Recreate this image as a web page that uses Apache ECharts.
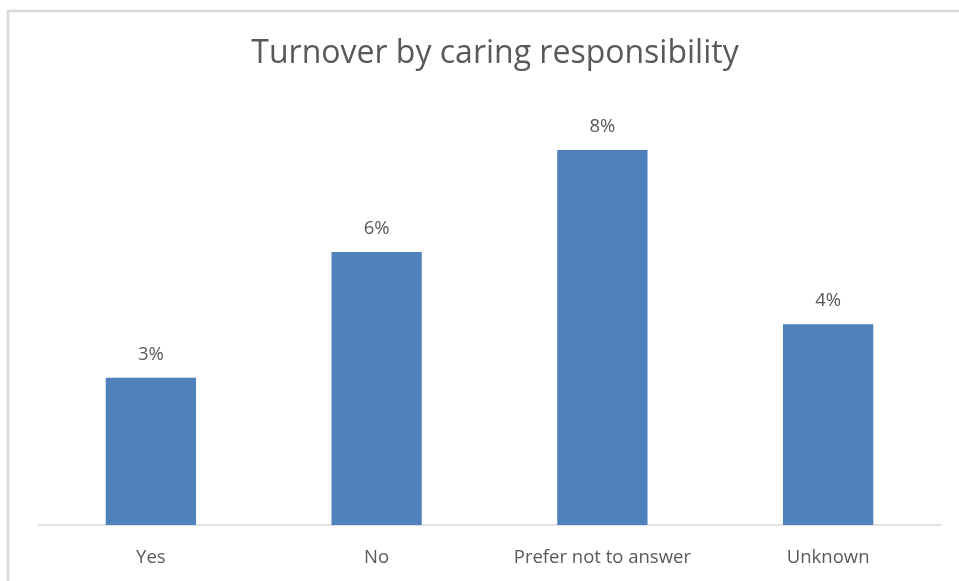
<!DOCTYPE html>
<html>
<head>
<meta charset="utf-8">
<style>
  html, body { margin: 0; padding: 0; background: #fff; }
  #chart { width: 959px; height: 581px; }
</style>
<script src="https://cdn.jsdelivr.net/npm/echarts@6/dist/echarts.min.js"></script>
</head>
<body>
<div id="chart"></div>
<script>
// Turnover rate (%) per caring-responsibility group
const categories = ['Yes', 'No', 'Prefer not to answer', 'Unknown'];
const turnover = [3.14, 5.82, 8.0, 4.28];

const FONT = '"Open Sans", "Noto Sans", sans-serif';
const TEXT = '#595959';

const chart = echarts.init(document.getElementById('chart'), null, { renderer: 'canvas' });

chart.setOption({
  animation: false,
  backgroundColor: '#ffffff',
  title: {
    text: 'Turnover by caring responsibility',
    left: 490,
    textAlign: 'center',
    top: 33,
    textStyle: { fontFamily: FONT, fontSize: 32, fontWeight: 'normal', color: TEXT }
  },
  graphic: [{
    type: 'rect',
    silent: true,
    shape: { x: 8, y: 11, width: 1100, height: 800 },
    style: { fill: 'none', stroke: '#d9d9d9', lineWidth: 2.5 }
  }],
  grid: { left: 38, right: 18, top: 103, bottom: 56, containLabel: false },
  xAxis: {
    type: 'category',
    data: categories,
    axisTick: { show: false },
    axisLine: { lineStyle: { color: '#d9d9d9', width: 1.5 } },
    axisLabel: { interval: 0, hideOverlap: false, fontFamily: FONT, fontSize: 18.5, color: TEXT, margin: 23 }
  },
  yAxis: {
    type: 'value',
    min: 0,
    max: 9,
    show: false,
    splitLine: { show: false }
  },
  series: [{
    type: 'bar',
    data: turnover,
    barWidth: '40%',
    itemStyle: { color: '#4f81bd' },
    label: {
      show: true,
      position: 'top',
      distance: 14,
      fontFamily: FONT,
      fontSize: 18.5,
      color: TEXT,
      formatter: p => Math.round(p.value) + '%'
    }
  }]
});
</script>
</body>
</html>
